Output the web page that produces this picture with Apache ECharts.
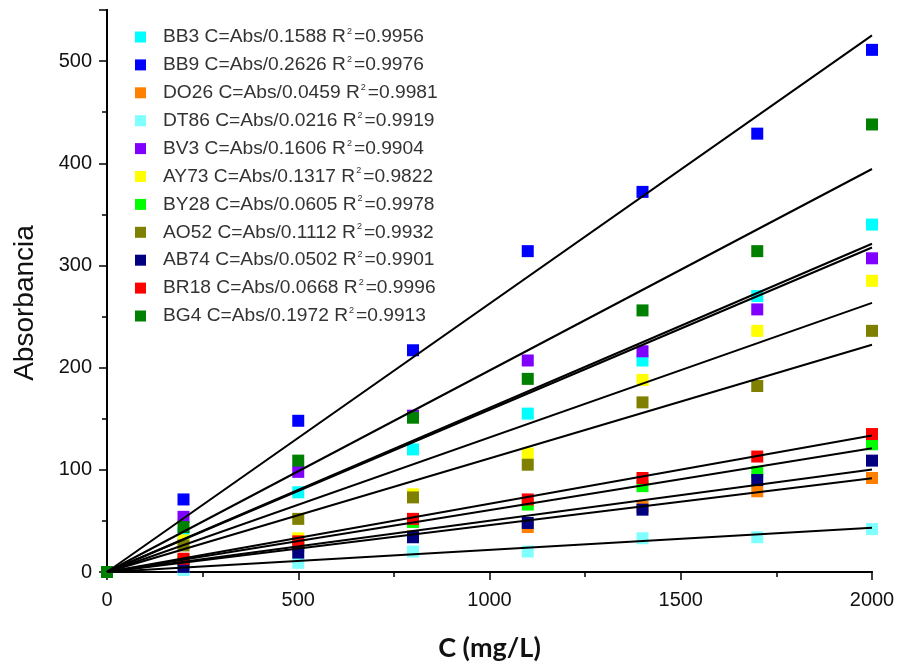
<!DOCTYPE html>
<html>
<head>
<meta charset="utf-8">
<script src="https://cdn.jsdelivr.net/npm/echarts@6/dist/echarts.min.js"></script>
<style>
  html, body { margin: 0; padding: 0; background: #fff; }
  #chart { width: 898px; height: 667px; }
</style>
</head>
<body>
<div id="chart"></div>
<script>
// dyes and their fitted calibration (C = Abs / k)
var dyes = ['BB3', 'BB9', 'DO26', 'DT86', 'BV3', 'AY73', 'BY28', 'AO52', 'AB74', 'BR18', 'BG4'];
var slopes = ['0.1588', '0.2626', '0.0459', '0.0216', '0.1606', '0.1317', '0.0605', '0.1112', '0.0502', '0.0668', '0.1972'];
var r2 = ['0.9956', '0.9976', '0.9981', '0.9919', '0.9904', '0.9822', '0.9978', '0.9932', '0.9901', '0.9996', '0.9913'];
var colors = ['#00ffff', '#0000ff', '#ff8000', '#80ffff', '#8000ff', '#ffff00', '#00ff00', '#808000', '#000080', '#ff0000', '#008000'];

// concentrations (mg/L)
var conc = [0, 200, 500, 800, 1100, 1400, 1700, 2000];

// measured absorbance per dye
var absBB3  = [0, 38, 78, 120, 155, 207, 270, 340];
var absBB9  = [0, 71, 148, 217, 314, 372, 429, 511];
var absDO26 = [0, 9, 25, 35, 44, 64, 79, 92];
var absDT86 = [0, 2, 9, 20, 20, 33, 34, 42];
var absBV3  = [0, 54, 98, 153, 207, 216, 257, 307];
var absAY73 = [0, 31, 33, 76, 116, 188, 236, 285];
var absBY28 = [0, 12, 28, 49, 66, 84, 98, 125];
var absAO52 = [0, 26, 52, 73, 105, 166, 182, 236];
var absAB74 = [0, 5, 19, 34, 48, 61, 90, 109];
var absBR18 = [0, 13, 30, 52, 71, 92, 113, 135];
var absBG4  = [0, 44, 109, 151, 189, 256, 314, 438];

var absAll = [absBB3, absBB9, absDO26, absDT86, absBV3, absAY73, absBY28, absAO52, absAB74, absBR18, absBG4];

var chart = echarts.init(document.getElementById('chart'));

var series = [];
dyes.forEach(function (d, i) {
  series.push({
    name: d,
    type: 'scatter',
    symbol: 'rect',
    symbolSize: 12,
    itemStyle: {color: colors[i], opacity: 1},
    z: 2,
    data: conc.map(function (c, j) { return [c, absAll[i][j]]; })
  });
});
// fitted lines, drawn on top of the squares
dyes.forEach(function (d, i) {
  var k = parseFloat(slopes[i]);
  series.push({
    name: d + ' fit',
    type: 'line',
    symbol: 'none',
    silent: true,
    z: 3,
    lineStyle: {color: '#000', width: 2},
    data: [[0, 0], [2000, 2000 * k]]
  });
});

var axisFont = {fontFamily: 'Liberation Sans', fontSize: 20, color: '#111'};
var plain = function (v) { return String(v); };

chart.setOption({
  animation: false,
  backgroundColor: '#fff',
  grid: {left: 107, right: 26, top: 10, bottom: 93},
  legend: {
    data: dyes,
    orient: 'vertical',
    left: 130,
    top: 22,
    itemWidth: 11,
    itemHeight: 11,
    itemGap: 8.4,
    icon: 'rect',
    formatter: function (name) {
      var i = dyes.indexOf(name);
      return '{a|' + name + ' C=Abs/' + slopes[i] + ' R}{s|2}{a|=' + r2[i] + '}';
    },
    textStyle: {
      padding: [0, 0, 0, 12],
      rich: {
        a: {fontFamily: 'Liberation Sans', fontSize: 19.2, color: '#333', lineHeight: 20},
        s: {fontFamily: 'Liberation Sans', fontSize: 9, color: '#333', padding: [0, 2, 11, 1]}
      }
    }
  },
  xAxis: [{
    type: 'value',
    min: 0, max: 2000, interval: 500,
    name: 'C (mg/L)',
    nameLocation: 'middle',
    nameGap: 63,
    nameTextStyle: {fontFamily: 'Lato', fontWeight: 'bold', fontSize: 27, color: '#111'},
    axisLine: {lineStyle: {color: '#000', width: 2}},
    axisTick: {show: true, length: 8, lineStyle: {color: '#000', width: 1.5}},
    minorTick: {show: true, splitNumber: 2, length: 5, lineStyle: {color: '#000', width: 1.5}},
    axisLabel: Object.assign({margin: 18, formatter: plain}, axisFont),
    splitLine: {show: false}
  }, {
    type: 'value',
    position: 'top',
    min: 0, max: 2000, interval: 500,
    axisLine: {lineStyle: {color: '#000', width: 2}},
    axisTick: {show: true, inside: true, length: 8, lineStyle: {color: '#000', width: 1.5}},
    minorTick: {show: true, splitNumber: 2, length: 5, lineStyle: {color: '#000', width: 1.5}},
    axisLabel: {show: false},
    splitLine: {show: false}
  }],
  yAxis: [{
    type: 'value',
    min: 0, max: 550, interval: 100,
    name: 'Absorbancia',
    nameLocation: 'middle',
    nameGap: 68,
    nameTextStyle: {fontFamily: 'Liberation Sans', fontSize: 28, color: '#111', padding: [0, 24, 0, 0]},
    axisLine: {lineStyle: {color: '#000', width: 2}},
    axisTick: {show: true, length: 8, lineStyle: {color: '#000', width: 1.5}},
    minorTick: {show: true, splitNumber: 2, length: 5, lineStyle: {color: '#000', width: 1.5}},
    axisLabel: Object.assign({margin: 15, showMaxLabel: false, formatter: plain}, axisFont),
    splitLine: {show: false}
  }, {
    type: 'value',
    position: 'right',
    min: 0, max: 550, interval: 100,
    axisLine: {lineStyle: {color: '#000', width: 2}},
    axisTick: {show: true, inside: true, length: 8, lineStyle: {color: '#000', width: 1.5}},
    minorTick: {show: true, splitNumber: 2, length: 5, lineStyle: {color: '#000', width: 1.5}},
    axisLabel: {show: false},
    splitLine: {show: false}
  }],
  series: series
});
</script>
</body>
</html>
